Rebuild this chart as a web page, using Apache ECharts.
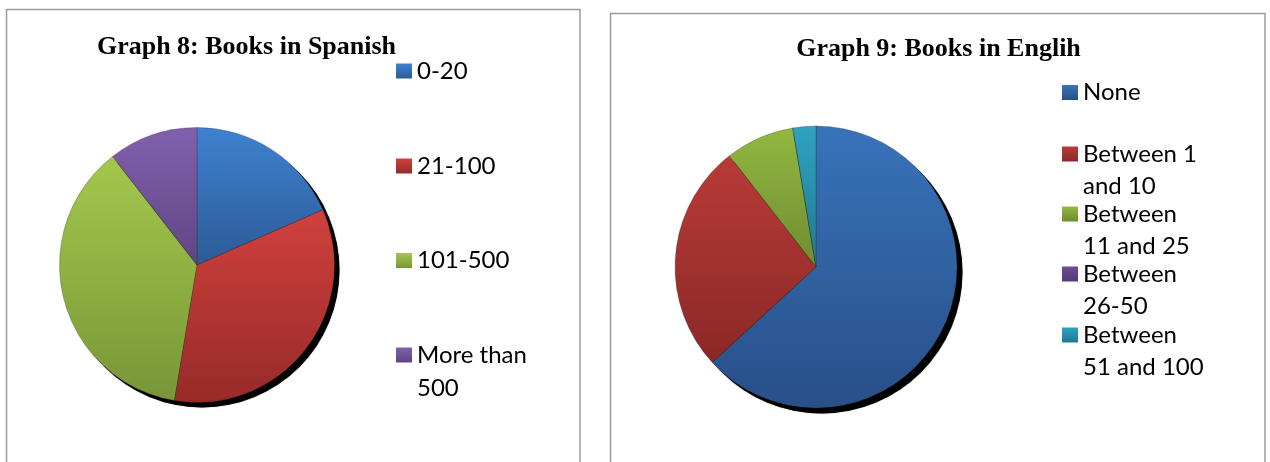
<!DOCTYPE html>
<html>
<head>
<meta charset="utf-8">
<script src="https://cdn.jsdelivr.net/npm/echarts@6/dist/echarts.min.js"></script>
<style>
html,body{margin:0;padding:0;background:#fff;}
#chart{width:1270px;height:462px;}
</style>
</head>
<body>
<div id="chart"></div>
<script>
// ---- Data ----
const spanishTitle = 'Graph 8: Books in Spanish';
const spanishCategories = ['0-20', '21-100', '101-500', 'More than 500'];
const spanishLabels = ['0-20', '21-100', '101-500', 'More than\n500'];
const spanishValues = [7, 13, 14, 4];

const englishTitle = 'Graph 9: Books in Englih';
const englishCategories = ['None', 'Between 1 and 10', 'Between 11 and 25', 'Between 26-50', 'Between 51 and 100'];
const englishLabels = ['None', 'Between 1\nand 10', 'Between\n11 and 25', 'Between\n26-50', 'Between\n51 and 100'];
const englishValues = [24, 10, 3, 0, 1];

// ---- Styles ----
const spanishColors = [
  ['#3F82D0', '#2C5A96'],
  ['#D0413E', '#972A28'],
  ['#A3C84C', '#789637'],
  ['#8160AE', '#604582']
];
const englishColors = [
  ['#3873BA', '#284F88'],
  ['#B93B38', '#8A2826'],
  ['#93B842', '#6E8C30'],
  ['#6C4E94', '#55397A'],
  ['#2FA2C2', '#21788F']
];
function grad(c) {
  return new echarts.graphic.LinearGradient(0, 0, 0, 1, [
    { offset: 0, color: c[0] }, { offset: 1, color: c[1] }
  ]);
}

const chart = echarts.init(document.getElementById('chart'), null, { renderer: 'canvas' });

const legendFont = { fontFamily: 'Lato', fontSize: 24, color: '#000' };

function makeLegends(cats, labels, left, centers, lineH) {
  const out = [];
  cats.forEach(function (name, i) {
    const twoLine = labels[i].indexOf('\n') >= 0;
    out.push({
      data: [{ name: name, icon: 'rect' }],
      orient: 'vertical',
      left: left,
      top: twoLine ? centers[i] - 1.5 * lineH : centers[i] - lineH / 2,
      padding: 0,
      itemWidth: 16,
      itemHeight: 15,
      itemGap: 0,
      icon: 'rect',
      selectedMode: false,
      itemStyle: { borderWidth: 0 },
      // a leading empty line keeps the first text line level with the marker
      formatter: function () { return twoLine ? '\n' + labels[i] : labels[i]; },
      textStyle: Object.assign({ lineHeight: lineH }, legendFont)
    });
  });
  return out;
}

const legends = []
  .concat(makeLegends(spanishCategories, spanishLabels, 396, [71, 166, 260.5, 355], 33))
  .concat(makeLegends(englishCategories, englishLabels, 1062, [92.5, 154, 214, 274, 335], 32));

function shadowSeries(center, r) {
  return {
    type: 'pie', silent: true, z: 1,
    center: center, radius: r,
    label: { show: false }, labelLine: { show: false },
    emphasis: { disabled: true },
    itemStyle: { color: '#000', shadowColor: 'rgba(0,0,0,0.6)', shadowBlur: 1 },
    data: [{ value: 1, name: '' }]
  };
}

function pieSeries(center, r, cats, vals, colors) {
  return {
    type: 'pie', z: 2,
    center: center, radius: r,
    startAngle: 90, clockwise: true,
    label: { show: false }, labelLine: { show: false },
    emphasis: { disabled: true },
    itemStyle: { borderWidth: 0.6, borderColor: 'rgba(40,40,40,0.45)' },
    data: cats.map(function (c, i) {
      return { name: c, value: vals[i], itemStyle: { color: grad(colors[i]) } };
    })
  };
}

chart.setOption({
  animation: false,
  backgroundColor: '#fff',
  title: [
    { text: spanishTitle, left: 246.5, top: 32, textAlign: 'center', padding: 0,
      textStyle: { fontFamily: 'Liberation Serif', fontWeight: 'bold', fontSize: 26, color: '#000', lineHeight: 30 } },
    { text: englishTitle, left: 938.5, top: 34, textAlign: 'center', padding: 0,
      textStyle: { fontFamily: 'Liberation Serif', fontWeight: 'bold', fontSize: 26, color: '#000', lineHeight: 30 } }
  ],
  legend: legends,
  graphic: [
    { type: 'rect', z: 0, shape: { x: 6.5, y: 9.5, width: 573.5, height: 480 },
      style: { fill: 'none', stroke: '#9c9c9c', lineWidth: 1.5 } },
    { type: 'rect', z: 0, shape: { x: 610.5, y: 13.5, width: 654.5, height: 480 },
      style: { fill: 'none', stroke: '#9c9c9c', lineWidth: 1.5 } }
  ],
  series: [
    shadowSeries([202, 270], 137.5),
    pieSeries([197, 265], 137.5, spanishCategories, spanishValues, spanishColors),
    shadowSeries([821.5, 272.5], 141),
    pieSeries([816, 267], 141, englishCategories, englishValues, englishColors)
  ]
});
</script>
</body>
</html>
